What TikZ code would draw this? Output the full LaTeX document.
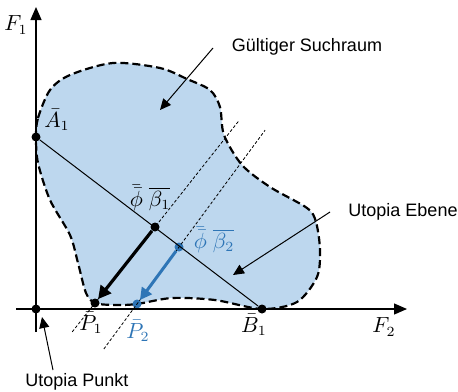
\documentclass[tikz,border=0pt]{standalone}
\usepackage{fontspec}
\setmainfont{Liberation Sans}
\usetikzlibrary{arrows.meta,calc}
\definecolor{blobfill}{HTML}{BDD7EE}
\definecolor{myblue}{HTML}{2E75B6}
\begin{document}
\begin{tikzpicture}[x=0.5pt,y=-0.5pt,font=\fontsize{9}{11}\selectfont,
  dot/.style={circle,fill=black,inner sep=0pt,minimum size=4.5pt},
  bdot/.style={dot,fill=myblue},
  axis/.style={line width=0.6pt,-{Triangle[length=6.5pt,width=5.5pt]}},
  callout/.style={line width=0.5pt,-{Triangle[length=5.5pt,width=5pt]}},
  proj/.style={line width=0.4pt,dash pattern=on 1.5pt off 1pt},
  boundary/.style={line width=1.1pt,dash pattern=on 4pt off 2pt,fill=blobfill},
  lbl/.style={inner sep=0pt},
  mlbl/.style={inner sep=0pt,font=\fontsize{10.5}{12}\selectfont}
]
\useasboundingbox (0,0) rectangle (458,391);
% search space
\draw[boundary] plot[smooth cycle] coordinates {
  (36,137) (38,118) (50,90) (70,75) (113,63) (160,68) (187,79) (210,90)
  (220,107) (224,135) (242,165) (270,187) (307,208) (316,222) (320,250)
  (317,277) (297,302) (262,309) (215,300) (172,298) (137,304) (115,305)
  (95,303) (86,293) (78,263) (70,235) (50,200) (38,163)};
% points
\node[dot] (O) at (36,309) {};
\node[dot] (A1) at (36,137) {};
\node[dot] (B1) at (262,309) {};
\node[dot] (Phi1) at (155,227) {};
\node[bdot] (Phi2) at (179,247) {};
\node[dot] (P1) at (95,303) {};
\node[bdot] (P2) at (137,304) {};
% projection lines
\draw[proj] ($(P1.center)!-0.38!(Phi1.center)$) -- ($(P1.center)!2.4!(Phi1.center)$);
\draw[proj] ($(P2.center)!-0.79!(Phi2.center)$) -- ($(P2.center)!3.05!(Phi2.center)$);
% utopia plane
\draw[line width=0.5pt] (A1) -- (B1);
% axes
\coordinate (ybot) at (36,332);
\coordinate (ytop) at (36,7);
\coordinate (xleft) at (16,309);
\coordinate (xright) at (407,309);
\draw[axis] (ybot) -- (ytop);
\draw[axis] (xleft) -- (xright);
% direction arrows
\draw[line width=1.6pt,-{Triangle[length=6.5pt,width=6.5pt]}] (Phi1) -- (P1);
\draw[line width=1.5pt,myblue,-{Triangle[length=6pt,width=6pt]}] (Phi2) -- (P2);
% labels
\node[mlbl] (F1l) at (16,25) {$F_1$};
\node[mlbl] (F2l) at (384,327) {$F_2$};
\node[mlbl] (A1l) at (57,120) {$\bar{A}_1$};
\node[mlbl] (B1l) at (254,325) {$\bar{B}_1$};
\node[mlbl] (P1l) at (91,323) {$\bar{P}_1$};
\node[mlbl,text=myblue] (P2l) at (138,331) {$\bar{P}_2$};
\node[mlbl] (phi1l) at (150,198) {$\bar{\bar{\phi}}\;\overline{\beta_1}$};
\node[mlbl,text=myblue] (phi2l) at (214,240) {$\bar{\bar{\phi}}\;\overline{\beta_2}$};
% callouts
\node[lbl] (gs) at (307,47) {Gültiger Suchraum};
\coordinate (gsa) at (213,48);
\coordinate (gsb) at (160,110);
\draw[callout] (gsa) -- (gsb);
\node[lbl] (ue) at (403,212) {Utopia Ebene};
\coordinate (uea) at (330,212);
\coordinate (ueb) at (233,275);
\draw[callout] (uea) -- (ueb);
\node[lbl] (up) at (77,382) {Utopia Punkt};
\coordinate (upa) at (53,370);
\coordinate (upb) at (42,317);
\draw[callout] (upa) -- (upb);
\end{tikzpicture}
\end{document}
